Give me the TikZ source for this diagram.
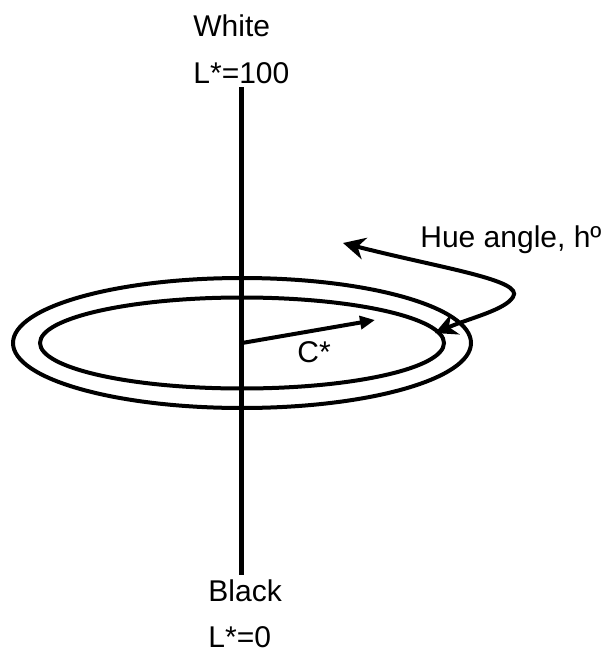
\documentclass[tikz,border=0pt]{standalone}
\usepackage{fontspec}
\setmainfont{Liberation Sans}
\usetikzlibrary{arrows.meta}
\tikzset{lbl/.style={inner sep=0pt, anchor=base west, font=\fontsize{15}{18}\selectfont},
  ring/.style={line width=2pt},
  hue/.style={line width=2pt, {Stealth[length=11pt, width=11pt, inset=3.5pt]}-{Stealth[length=11pt, width=11pt, inset=3.5pt]}}}

\begin{document}
\begin{tikzpicture}[x=0.5pt, y=-0.5pt]
\useasboundingbox (0,0) rectangle (609,653);
% lightness axis
\node[lbl] (white) at (193,36) {White};
\node[lbl] (ltop) at (193,83) {L*=100};
\node[lbl] (black) at (208,601) {Black};
\node[lbl] (lbot) at (208,647) {L*=0};
\coordinate (axtop) at (241,87);
\coordinate (axbot) at (241,575);
\draw[line width=2.5pt] (axtop) -- (axbot);
% chroma rings
\coordinate (c) at (242,343);
\draw[ring] (c) ellipse [x radius=114.5pt, y radius=32.5pt];
\draw[ring] (c) ellipse [x radius=101pt, y radius=22.75pt];
\coordinate (ctip) at (375,320);
\draw[line width=2pt, -{Triangle[length=7.5pt, width=6.5pt]}] (c) -- (ctip);
\node[lbl] (cstar) at (297,362) {C*};
% hue
\node[lbl] (huelbl) at (420,247) {Hue angle, hº};
\coordinate (hs) at (343,243);
\coordinate (hr) at (513,297);
\coordinate (he) at (435,333);
\draw[hue] (hs) .. controls (440,268) and (525,280) .. (hr) .. controls (505,310) and (470,318) .. (he);
\end{tikzpicture}
\end{document}
